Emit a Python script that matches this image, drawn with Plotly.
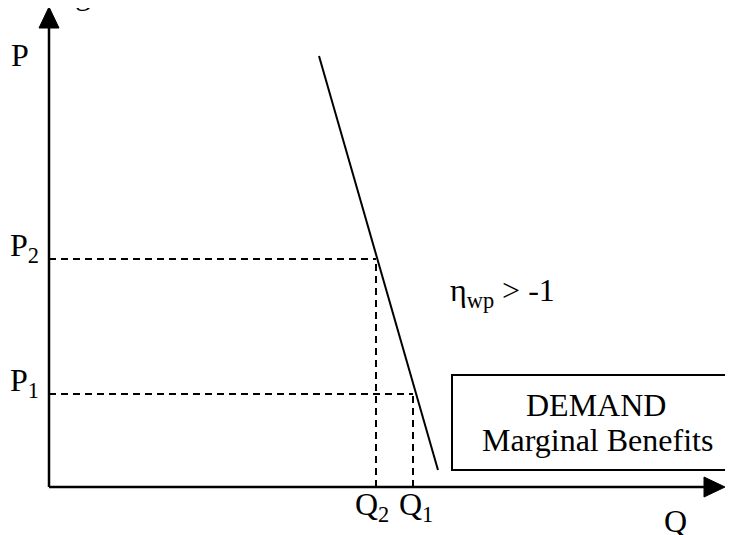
import plotly.graph_objects as go

# ---- data (abstract Q/P units, origin at the axes corner) ----
Q_LABELS = ["Q<sub>2</sub>", "Q<sub>1</sub>"]
Q_VALUES = [327, 364]
P_LABELS = ["P<sub>2</sub>", "P<sub>1</sub>"]
P_VALUES = [228, 93]
DEMAND_Q = [270, 389]
DEMAND_P = [431, 17]
AXIS_Q_MAX = 676
AXIS_P_MAX = 480
ELASTICITY_TEXT = "η<sub>wp</sub> > -1"
BOX_LINES = ["DEMAND", "Marginal Benefits"]

FONT = dict(family="Liberation Serif, Times New Roman, serif", size=32, color="black")
HEAD = 21   # arrow head length
HALF = 10   # arrow head half width
DASH = dict(color="black", width=2, dash="7px,5px")

fig = go.Figure()

# axes lines
fig.add_trace(go.Scatter(x=[0, 0], y=[0, AXIS_P_MAX - HEAD], mode="lines",
                         line=dict(color="black", width=2.5), hoverinfo="skip"))
fig.add_trace(go.Scatter(x=[0, AXIS_Q_MAX - HEAD], y=[0, 0], mode="lines",
                         line=dict(color="black", width=2.5), hoverinfo="skip"))
# arrow heads
fig.add_trace(go.Scatter(x=[-HALF, HALF, 0, -HALF],
                         y=[AXIS_P_MAX - HEAD, AXIS_P_MAX - HEAD, AXIS_P_MAX, AXIS_P_MAX - HEAD],
                         mode="lines", fill="toself", fillcolor="black",
                         line=dict(color="black", width=1), hoverinfo="skip"))
fig.add_trace(go.Scatter(x=[AXIS_Q_MAX - HEAD, AXIS_Q_MAX - HEAD, AXIS_Q_MAX, AXIS_Q_MAX - HEAD],
                         y=[-HALF, HALF, 0, -HALF],
                         mode="lines", fill="toself", fillcolor="black",
                         line=dict(color="black", width=1), hoverinfo="skip"))

# dashed guide lines
for q, p in zip(Q_VALUES, P_VALUES):
    fig.add_trace(go.Scatter(x=[0, q], y=[p, p], mode="lines", line=DASH, hoverinfo="skip"))
    fig.add_trace(go.Scatter(x=[q, q], y=[0, p], mode="lines", line=DASH, hoverinfo="skip"))

# demand curve
fig.add_trace(go.Scatter(x=DEMAND_Q, y=DEMAND_P, mode="lines",
                         line=dict(color="black", width=2), hoverinfo="skip"))

# box
fig.add_shape(type="rect", x0=403, x1=720, y0=17, y1=112,
              line=dict(color="black", width=2), fillcolor="rgba(0,0,0,0)")

ann = []
def txt(x, y, t, **kw):
    d = dict(x=x, y=y, text=t, showarrow=False, font=FONT, xanchor="center", yanchor="middle")
    d.update(kw)
    ann.append(d)

txt(-29, 432, "P")
txt(626, -34, "Q")
for lab, p in zip(P_LABELS, P_VALUES):
    txt(-25, p + 12, lab)
for lab, q, dx in zip(Q_LABELS, Q_VALUES, [-4, 3]):
    txt(q + dx, -19, lab)
txt(453, 195, ELASTICITY_TEXT)
txt(547, 82, BOX_LINES[0])
txt(548, 47, BOX_LINES[1])
txt(34, 474, "g", yanchor="bottom")

fig.update_layout(
    width=725, height=527,
    margin=dict(l=0, r=0, t=0, b=0),
    paper_bgcolor="white", plot_bgcolor="white",
    showlegend=False,
    xaxis=dict(range=[-41, 684], visible=False, fixedrange=True),
    yaxis=dict(range=[-48, 479], visible=False, fixedrange=True),
    annotations=ann,
)
fig.write_html("out.html")
